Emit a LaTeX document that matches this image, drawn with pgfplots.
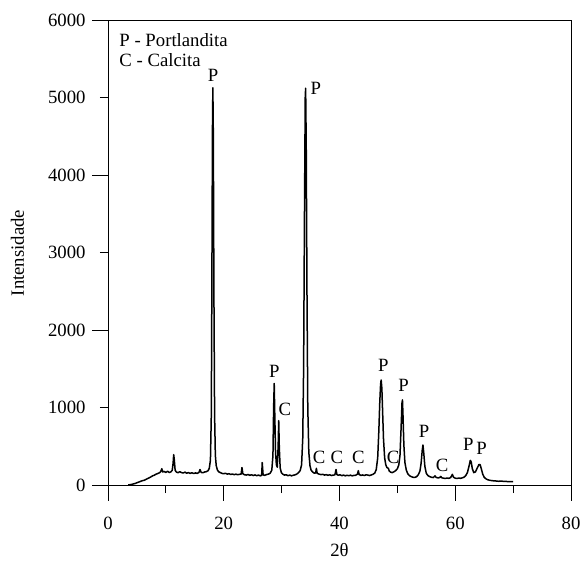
\documentclass[border=0pt]{standalone}
\usepackage{pgfplots}
\pgfplotsset{compat=1.18}
\usepackage{fontspec}
\setmainfont{Liberation Serif}
\pgfplotstableread{
x y
3.5 0
3.9 5
4.3 12
4.7 20
5.1 32
5.5 43
5.9 55
6.3 62
6.7 78
7.1 92
7.4 104
7.7 118
8.0 126
8.3 140
8.6 148
8.9 158
9.1 172
9.3 210
9.45 168
9.7 175
10.0 162
10.3 178
10.6 160
10.9 172
11.1 190
11.25 280
11.35 392
11.45 330
11.6 190
11.8 168
12.1 158
12.4 172
12.7 160
13.0 155
13.3 166
13.6 152
13.9 160
14.2 150
14.5 158
14.8 148
15.1 156
15.4 150
15.7 160
15.9 200
16.1 162
16.4 158
16.7 168
17.0 172
17.3 185
17.5 215
17.7 320
17.85 900
17.95 2600
18.05 4600
18.12 5125
18.2 4500
18.3 2500
18.42 900
18.55 380
18.7 250
18.9 195
19.1 172
19.4 160
19.7 150
20.0 145
20.3 152
20.6 140
20.9 146
21.2 136
21.5 142
21.8 133
22.1 140
22.4 132
22.7 138
23.0 140
23.15 225
23.3 145
23.6 132
23.9 128
24.2 136
24.5 125
24.8 132
25.1 122
25.4 130
25.7 120
26.0 128
26.3 118
26.55 124
26.65 290
26.8 130
27.1 125
27.4 135
27.7 140
28.0 150
28.3 190
28.5 380
28.62 1000
28.72 1310
28.82 900
28.95 420
29.1 260
29.25 230
29.4 500
29.5 830
29.6 480
29.75 220
29.95 160
30.2 140
30.5 128
30.8 132
31.1 120
31.4 128
31.7 118
32.0 126
32.3 130
32.6 140
32.9 158
33.2 185
33.45 260
33.65 600
33.8 1500
33.95 3500
34.08 5000
34.15 5120
34.25 4400
34.38 2500
34.52 1000
34.7 420
34.9 250
35.1 190
35.4 165
35.7 150
35.9 160
36.0 215
36.15 150
36.5 140
36.8 134
37.1 138
37.4 128
37.7 134
38.0 125
38.3 132
38.6 122
38.9 128
39.2 130
39.4 200
39.55 135
39.8 126
40.1 132
40.4 120
40.7 128
41.0 118
41.3 126
41.6 120
41.9 127
42.2 118
42.5 124
42.8 126
43.1 140
43.25 185
43.4 135
43.7 124
44.0 130
44.3 122
44.6 132
44.9 128
45.2 122
45.5 130
45.8 138
46.1 155
46.35 200
46.6 350
46.8 700
46.95 1050
47.1 1300
47.2 1355
47.32 1250
47.45 950
47.6 600
47.8 350
48.0 260
48.2 225
48.45 215
48.6 180
48.85 165
49.1 160
49.4 170
49.7 185
50.0 210
50.25 260
50.45 380
50.65 750
50.8 1060
50.88 1097
50.98 880
51.12 520
51.3 290
51.55 190
51.8 145
52.1 120
52.4 108
52.7 100
53.0 98
53.3 106
53.6 130
53.9 180
54.1 280
54.3 450
54.42 516
54.55 420
54.75 240
55.0 150
55.3 120
55.6 108
55.9 100
56.2 96
56.5 118
56.7 98
57.0 92
57.3 95
57.5 110
57.7 92
58.0 88
58.3 85
58.6 90
58.9 86
59.2 95
59.5 138
59.7 100
60.0 88
60.3 84
60.6 90
60.9 86
61.2 92
61.5 100
61.8 120
62.1 160
62.4 250
62.6 318
62.75 300
62.95 210
63.2 160
63.5 170
63.8 220
64.1 265
64.3 262
64.5 210
64.75 140
65.0 100
65.3 80
65.6 68
66.0 60
66.5 55
67.0 52
67.5 48
68.0 50
68.5 46
69.0 45
69.5 44
70.0 43
}\xrd
\begin{document}
\fontsize{18.8}{22}\selectfont
\begin{tikzpicture}
\useasboundingbox (-108bp,-77bp) rectangle (474bp,485bp);
\begin{axis}[
  name=ax,
  scale only axis, width=463bp, height=465bp,
  xmin=0, xmax=80, ymin=0, ymax=6000,
  clip=false,
  axis line style={line width=0.9bp, black},
  tick align=outside,
  xtick pos=bottom, ytick pos=left,
  xtick={0,10,20,30,40,50,60,70,80},
  xticklabels={0,{},20,{},40,{},60,{},80},
  minor xtick={0,20,40,60,80},
  ytick={0,1000,2000,3000,4000,5000,6000},
  minor ytick={0,2000,4000,6000},
  major tick length=8bp,
  minor tick length=15.5bp,
  xtick style={black, line width=0.8bp},
  ytick style={black, line width=0.8bp},
  /pgf/number format/assume math mode=true,
  /pgf/number format/1000 sep={},
  tick label style={font=\fontsize{18.8}{22}\selectfont},
  xticklabel style={yshift=-18bp},
  yticklabel style={xshift=-8bp},
]
\addplot[black, line width=1.5bp, line join=round] table[x=x,y=y] {\xrd};
\node[inner sep=0, anchor=base west] at (axis cs:1.95,5658) {P - Portlandita};
\node[inner sep=0, anchor=base west] at (axis cs:1.95,5397) {C - Calcita};
\node[inner sep=0] at (axis cs:18.14,5280) {P};
\node[inner sep=0] at (axis cs:35.89,5112) {P};
\node[inner sep=0] at (axis cs:28.73,1468) {P};
\node[inner sep=0] at (axis cs:30.55,972) {C};
\node[inner sep=0] at (axis cs:36.49,355) {C};
\node[inner sep=0] at (axis cs:39.54,355) {C};
\node[inner sep=0] at (axis cs:43.28,355) {C};
\node[inner sep=0] at (axis cs:47.57,1545) {P};
\node[inner sep=0] at (axis cs:49.27,355) {C};
\node[inner sep=0] at (axis cs:51.06,1290) {P};
\node[inner sep=0] at (axis cs:54.63,688) {P};
\node[inner sep=0] at (axis cs:57.71,258) {C};
\node[inner sep=0] at (axis cs:62.26,527) {P};
\node[inner sep=0] at (axis cs:64.57,474) {P};
\node[inner sep=0] at (axis cs:40,-839) {2θ};
\node[inner sep=0, rotate=90] at (axis cs:-15.64,2994) {Intensidade};
\end{axis}
\end{tikzpicture}
\end{document}
